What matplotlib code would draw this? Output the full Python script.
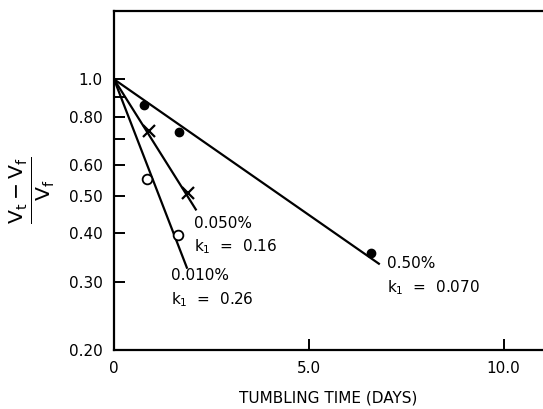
import numpy as np
import matplotlib
matplotlib.use("Agg")
import matplotlib.pyplot as plt
from matplotlib.ticker import FixedLocator, NullLocator

# 測定点 (日数, (Vt-Vf)/Vf)
t_050 = [0.77, 1.67, 6.6]
v_050 = [0.86, 0.73, 0.356]
t_0050 = [0.9, 1.9]
v_0050 = [0.735, 0.508]
t_0010 = [0.84, 1.64]
v_0010 = [0.552, 0.396]

# 速度定数と直線の終点
k_050, end_050 = 0.070, 6.8
k_0050, end_0050 = 0.16, 2.1
k_0010, end_0010 = 0.26, 1.87

yticks = [1.0, 0.9, 0.8, 0.7, 0.6, 0.5, 0.4, 0.3, 0.2]
ylabels = ["1.0", "", "0.80", "", "0.60", "0.50", "0.40", "0.30", "0.20"]
xticks = [0, 5, 10]
xlabels = ["0", "5.0", "10.0"]

plt.rcParams['font.family'] = 'DejaVu Sans'
plt.rcParams['axes.linewidth'] = 1.6

fig = plt.figure(figsize=(5.43, 4.09), dpi=100)
ax = fig.add_axes([0.21, 0.144, 0.789, 0.829])

for k, tend in [(k_050, end_050), (k_0050, end_0050), (k_0010, end_0010)]:
    tt = np.array([0, tend])
    ax.plot(tt, 10 ** (-k * tt), c="k", lw=1.6)

ax.plot(t_050, v_050, "o", c="k", ms=6)
ax.plot(t_0050, v_0050, "x", c="k", ms=8, mew=1.6)
ax.plot(t_0010, v_0010, "o", mfc="white", mec="k", ms=7, mew=1.3)

ax.set_yscale("log")
ax.set_ylim(0.2, 1.5)
ax.set_xlim(0, 11.0)
ax.yaxis.set_major_locator(FixedLocator(yticks))
ax.yaxis.set_minor_locator(NullLocator())
ax.set_yticklabels(ylabels)
ax.set_xticks(xticks)
ax.set_xticklabels(xlabels)
ax.tick_params(direction="in", length=8, width=1.4, labelsize=11, pad=8)
ax.spines["right"].set_visible(False)

ax.text(2.05, 0.445, "0.050%\nk$_1$  =  0.16", fontsize=11, va="top", linespacing=1.5)
ax.text(1.45, 0.325, "0.010%\nk$_1$  =  0.26", fontsize=11, va="top", linespacing=1.5)
ax.text(7.0, 0.35, "0.50%\nk$_1$  =  0.070", fontsize=11, va="top", linespacing=1.5)

ax.set_xlabel("TUMBLING TIME (DAYS)", fontsize=11, labelpad=10)
fig.text(0.06, 0.535, r"$\frac{\mathrm{V_t - V_f}}{\mathrm{V_f}}$", rotation=90,
         fontsize=21, ha="center", va="center")

plt.savefig("out.png")
